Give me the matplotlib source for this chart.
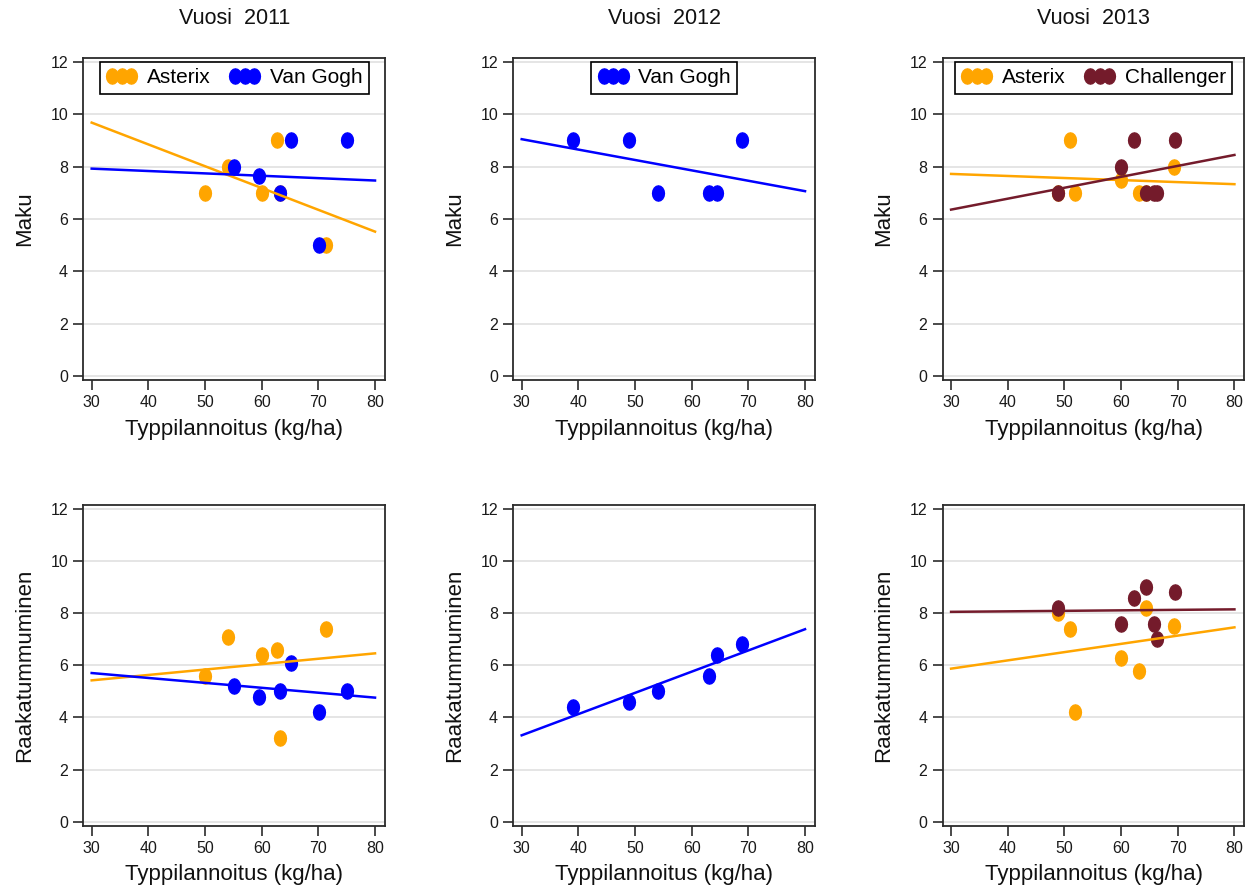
import numpy as np
import matplotlib
matplotlib.use('Agg')
import matplotlib.pyplot as plt
from matplotlib.path import Path
from matplotlib.lines import Line2D

plt.rcParams['font.family'] = ['Liberation Sans', 'DejaVu Sans']

years = ['2011', '2012', '2013']
row_labels = ['Maku', 'Raakatummuminen']
x_label = 'Typpilannoitus (kg/ha)'

# 2011
n_asterix_2011 = [50, 54, 60, 62.7, 63.2, 71.3]
maku_asterix_2011 = [7, 8, 7, 9, 7, 5]
raaka_asterix_2011 = [5.6, 7.1, 6.4, 6.6, 3.2, 7.4]
n_vangogh_2011 = [55.2, 59.6, 63.2, 65.1, 70.2, 75.1]
maku_vangogh_2011 = [8, 7.65, 7, 9, 5, 9]
raaka_vangogh_2011 = [5.2, 4.8, 5.0, 6.1, 4.2, 5.0]

# 2012
n_vangogh_2012 = [39, 49, 54.1, 63.1, 64.5, 68.8]
maku_vangogh_2012 = [9, 9, 7, 7, 7, 9]
raaka_vangogh_2012 = [4.4, 4.6, 5.0, 5.6, 6.4, 6.8]

# 2013
n_asterix_2013 = [48.8, 51, 51.8, 60, 63.1, 64.4, 69.3]
maku_asterix_2013 = [7, 9, 7, 7.5, 7, 7, 8]
raaka_asterix_2013 = [8.0, 7.4, 4.2, 6.3, 5.8, 8.2, 7.5]
n_challenger_2013 = [48.8, 60, 62.3, 64.4, 65.8, 66.4, 69.6]
maku_challenger_2013 = [7, 8, 9, 7, 7, 7, 9]
raaka_challenger_2013 = [8.2, 7.6, 8.6, 9.0, 7.6, 7.0, 8.8]

colors = {'Asterix': '#FFA500', 'Van Gogh': '#0000FF', 'Challenger': '#741B2B'}

panels = {
    (0, 0): [('Asterix', n_asterix_2011, maku_asterix_2011), ('Van Gogh', n_vangogh_2011, maku_vangogh_2011)],
    (0, 1): [('Van Gogh', n_vangogh_2012, maku_vangogh_2012)],
    (0, 2): [('Asterix', n_asterix_2013, maku_asterix_2013), ('Challenger', n_challenger_2013, maku_challenger_2013)],
    (1, 0): [('Asterix', n_asterix_2011, raaka_asterix_2011), ('Van Gogh', n_vangogh_2011, raaka_vangogh_2011)],
    (1, 1): [('Van Gogh', n_vangogh_2012, raaka_vangogh_2012)],
    (1, 2): [('Asterix', n_asterix_2013, raaka_asterix_2013), ('Challenger', n_challenger_2013, raaka_challenger_2013)],
}

# slightly tall rounded marker like the original
t = np.linspace(0, 2 * np.pi, 17)
dot = Path(np.column_stack([0.78 * np.cos(t), np.sin(t)]), closed=True)

W, H = 1257, 892
fig = plt.figure(figsize=(W / 100, H / 100), dpi=100)
fig.patch.set_facecolor('white')

col_left = [83.3, 513.3, 942.7]
col_width = 301.7
row_top = [58, 505]
row_bottom = [380, 825.7]

fit_x = np.array([30, 80])

for (r, c), series in panels.items():
    ax = fig.add_axes([col_left[c] / W, 1 - row_bottom[r] / H,
                       col_width / W, (row_bottom[r] - row_top[r]) / H])
    for name, xs, ys in series:
        ax.plot(xs, ys, ls='none', marker=dot, ms=11, color=colors[name], zorder=3)
    for name, xs, ys in series:
        k, b = np.polyfit(xs, ys, 1)
        ax.plot(fit_x, k * fit_x + b, color=colors[name], lw=1.8, zorder=4)

    ax.set_xlim(28.52, 81.76)
    ax.set_ylim(-0.15, 12.15)
    ax.set_xticks(range(30, 81, 10))
    ax.set_yticks(range(0, 13, 2))
    ax.grid(axis='y', color='#E3E3E3', lw=1.3)
    ax.set_axisbelow(True)
    for s in ax.spines.values():
        s.set_color('#2B2B2B')
        s.set_linewidth(1.3)
    ax.tick_params(direction='out', length=7, width=1.2, labelsize=11.5,
                   pad=4, color='#2B2B2B', labelcolor='#1A1A1A')
    ax.set_xlabel(x_label, fontsize=16, labelpad=6, color='#111111')
    ax.set_ylabel(row_labels[r], fontsize=16, labelpad=11, color='#111111')

    if r == 0:
        handles = [Line2D([], [], ls='none', marker=dot, ms=11, color=colors[n]) for n, _, _ in series]
        leg = ax.legend(handles, [n for n, _, _ in series], loc='upper center',
                        ncol=len(series), numpoints=3, handlelength=1.5,
                        handletextpad=0.45, columnspacing=0.9, borderpad=0.3,
                        borderaxespad=0.2, fancybox=False, edgecolor='black',
                        framealpha=1, fontsize=15)
        leg.get_frame().set_linewidth(1.2)
        fig.text((col_left[c] + col_width / 2) / W, 1 - 19 / H, 'Vuosi  ' + years[c],
                 ha='center', va='center', fontsize=15.5, color='#111111')

fig.savefig('out.png', dpi=100)
